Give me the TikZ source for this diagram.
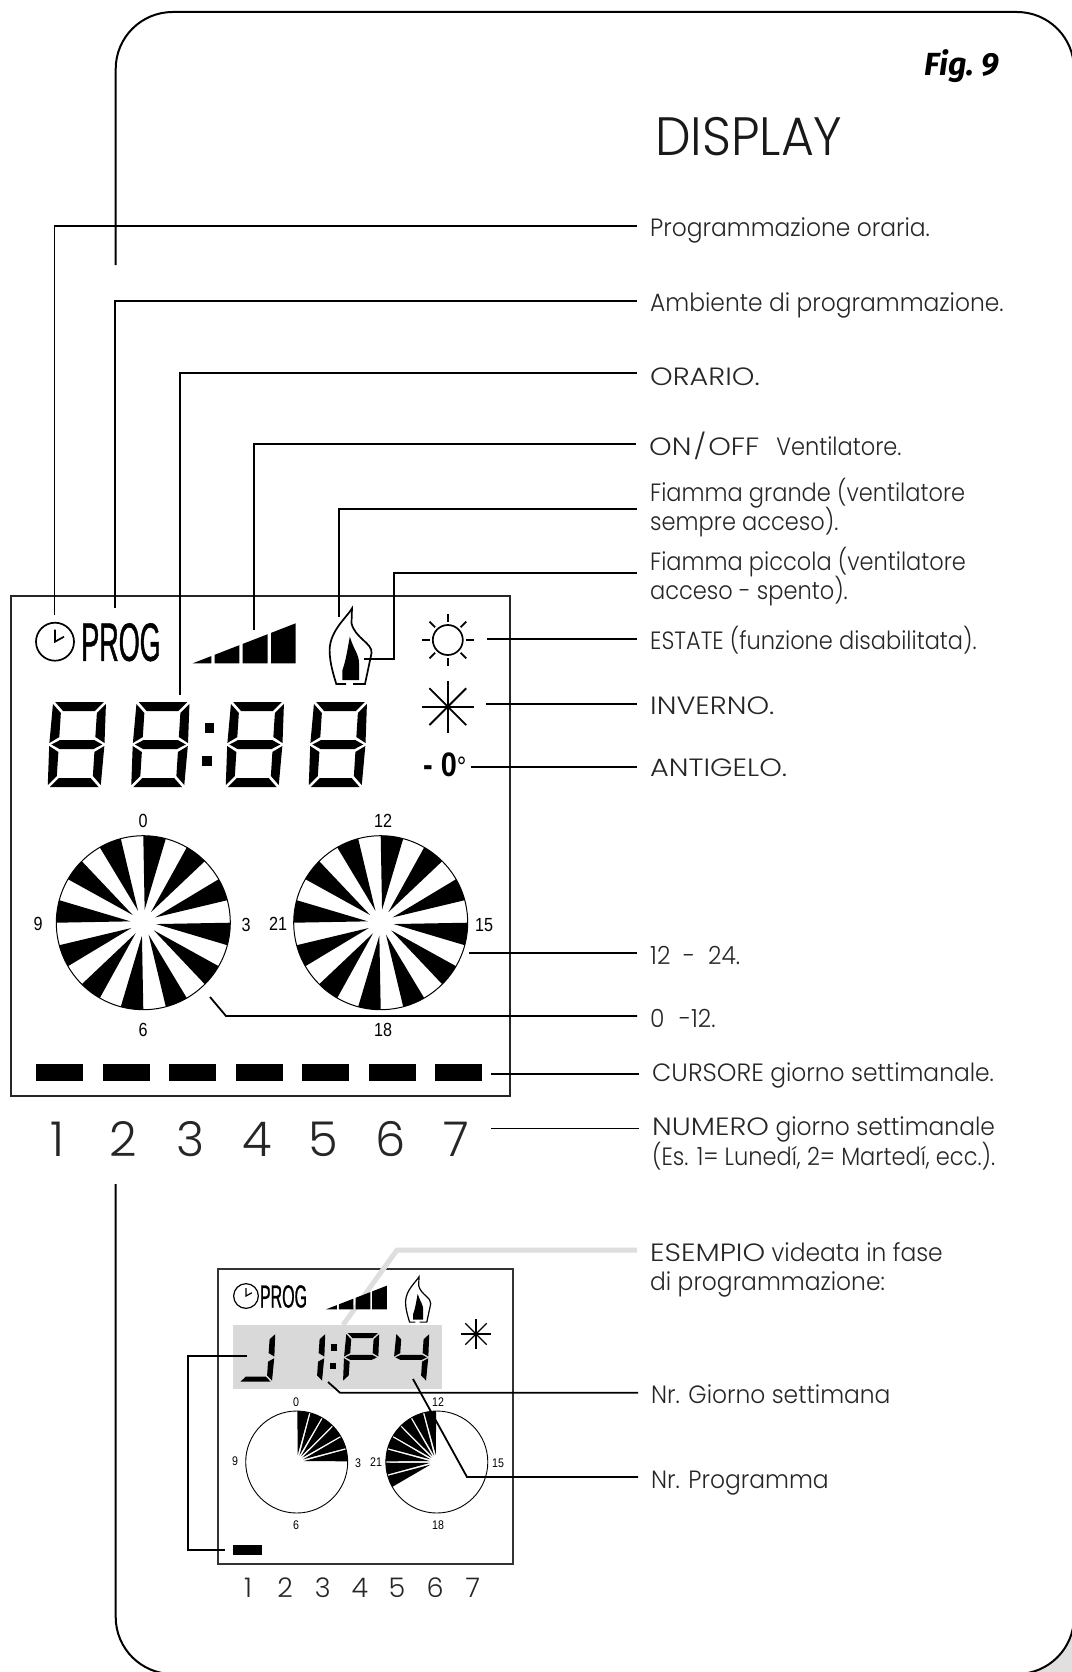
\documentclass[tikz,border=0pt]{standalone}
\usepackage{fontspec}
\setmainfont[FakeStretch=.935]{Poppins Light}
\newfontfamily\plainfont{Poppins Light}
\newfontfamily\narrowfont[FakeStretch=.9]{Poppins Light}
\newfontfamily\widefont[FakeStretch=1.15]{Poppins Light}
\newfontfamily\condfont[FakeStretch=.85]{Liberation Sans}
\newfontfamily\progfont[FakeStretch=.5,FakeBold=.8]{Liberation Sans}
\newfontfamily\figfont{Fira Sans}
\usetikzlibrary{arrows.meta,positioning,calc}
\setlength{\lineskiplimit}{-20pt}

\newcommand{\segT}{(3,0) -- (49,0) -- (41,9) -- (11,9) -- cycle}
\newcommand{\segUL}{(1,2) -- (9,11) -- (9,35) -- (0,41) -- cycle}
\newcommand{\segUR}{(51,2) -- (43,11) -- (43,35) -- (52,41) -- cycle}
\newcommand{\segM}{(2,42.5) -- (10,38) -- (42,38) -- (50,42.5) -- (42,47) -- (10,47) -- cycle}
\newcommand{\segLL}{(0,44) -- (9,50) -- (9,74) -- (1,83) -- cycle}
\newcommand{\segLR}{(52,44) -- (43,50) -- (43,74) -- (51,83) -- cycle}
\newcommand{\segB}{(3,85) -- (11,76) -- (41,76) -- (49,85) -- cycle}

\tikzset{
    pics/lcddigit/.style={code={\foreach \s in {#1}{\fill \csname seg\s\endcsname;}}},
    pics/clockicon/.style={code={
        \draw[line width=#1] (0,0) circle[radius=19];
        \draw[line width=#1] (0,-12) -- (0,0) -- (9,-5);
    }},
    pics/barsicon/.style={code={
        \fill (0,0) -- (18.6,0) -- (18.6,-7.2) -- cycle;
        \fill (21.9,0) -- (46.6,0) -- (46.6,-18.1) -- (21.9,-8.5) -- cycle;
        \fill (50,0) -- (75,0) -- (75,-29.1) -- (50,-19.4) -- cycle;
        \fill (78.3,0) -- (103,0) -- (103,-40) -- (78.3,-30.4) -- cycle;
    }},
    pics/flameicon/.style={code={
        \draw[line width=#1] (-6,75.7) -- (-15.7,75.7) .. controls (-18,68) and (-22.4,55) .. (-22.4,41.7)
            .. controls (-22,22) and (-5,9) .. (0,0) -- (-.5,15) .. controls (3,30) and (21,35) .. (19.5,45)
            -- (13,75.7) -- (1,75.7);
        \fill (-2.2,28.4) .. controls (2,42) and (7,46) .. (7,55) -- (7,71.7) -- (-9.6,71.7) -- (-9.6,62)
            .. controls (-6,52) and (-4,38) .. cycle;
    }},
    pics/snowicon/.style={code={
        \foreach \a in {0,45,...,315} {\draw[line width=#1] (0,0) -- (\a:26);}
    }},
}

\begin{document}
\begin{tikzpicture}[
                x=1pt, y=-1pt,
                frame/.style={line width=2pt, rounded corners=57pt},
                lcdbox/.style={draw=black!85, line width=1.4pt},
                lead/.style={line width=1.8pt, line join=miter},
                greylead/.style={line width=5pt, draw=black!13},
                lbltwo/.style={anchor=west, inner xsep=13pt, inner ysep=0pt, align=left, text=black!85, font=\fontsize{25}{29}\selectfont},
                lbl/.style={lbltwo, text height=#1, text depth=0pt},
                lbl/.default=21pt,
                dialnum/.style={inner sep=0pt, font=\condfont\fontsize{19}{19}\selectfont},
                smallnum/.style={inner sep=0pt, font=\condfont\fontsize{12.5}{12.5}\selectfont},
                daynum/.style={inner sep=0pt, text=black!85, font=\plainfont\fontsize{48}{48}\selectfont},
                smallday/.style={inner sep=0pt, text=black!85, font=\plainfont\fontsize{27}{27}\selectfont},
                dial/.style={draw=black, fill=white, line width=1pt},
                smalldial/.style={draw=black, fill=white, line width=.9pt},
            ]
            \useasboundingbox (0,0) rectangle (1071,1672);
            \fill[black!12] (1074,1617) .. controls (1074,1648) and (1048,1674) .. (1017,1674) -- (1074,1674) -- cycle;
            \draw[frame] (115.7,265) -- (115.7,12) -- (1074,12) -- (1074,1674) -- (115.7,1674) -- (115.7,1184);

            \node[inner sep=0pt, font=\figfont\bfseries\itshape\fontsize{32}{32}\selectfont] (figno) at (962,66) {Fig.\ 9};
            \node[inner sep=0pt, anchor=west, text=black!90, font=\fontsize{54}{54}\selectfont] (title) at (655,137) {DISPLAY};

            \node[lcdbox, rectangle, minimum width=499pt, minimum height=500pt, inner sep=0pt] (lcd) at (260.5,846) {};
            \node[draw=black!80, line width=1.1pt, rectangle, minimum width=295pt, minimum height=295pt, inner sep=0pt] (minilcd) at (365.5,1416.5) {};

            \coordinate (cClock) at (54.5,615);
            \coordinate (cProg) at (115,608);
            \coordinate (cOrario) at (180.3,695);
            \coordinate (cBars) at (254,630);
            \coordinate (cBigflame) at (339,617);
            \coordinate (cSmallflame) at (364,659);
            \coordinate (cSmallflameBend) at (394,573);
            \coordinate (cSun) at (487,639.3);
            \coordinate (cSnow) at (486,704);
            \coordinate (cFrost) at (470.5,767);
            \coordinate (cDialB) at (469,952.7);
            \coordinate (cDialA) at (210,997);
            \coordinate (cDialBend) at (226,1016);
            \coordinate (cCursor) at (491,1074);
            \coordinate (cNumero) at (491,1128.5);
            \coordinate (cGrey) at (343,1325);
            \coordinate (cGreyBend) at (397,1250);
            \coordinate (cGiorno) at (328,1382);
            \coordinate (cGiornoBend) at (340,1392.7);
            \coordinate (cProgr) at (413,1379);
            \coordinate (cProgrBend) at (467,1477);
            \coordinate (cMiniA) at (247,1356);
            \coordinate (cMiniB) at (225,1550);
            \coordinate (cMiniBendA) at (188,1356);

            \node[lbl] (lOraria) at (637,226) {Programmazione oraria.};
            \node[lbl] (lAmbiente) at (637,301) {Ambiente di programmazione.};
            \node[lbl=25pt] (lOrario) at (637,373) {{\widefont ORARIO.}};
            \node[lbl=22pt] (lVent) at (636,444) {{\widefont ON\kern2pt/\kern2pt OFF}\kern17pt{\narrowfont Ventilatore.}};
            \node[lbltwo, font=\narrowfont\fontsize{25}{29}\selectfont] (lGrande) at (637,508) {Fiamma grande (ventilatore\\sempre acceso).};
            \node[lbltwo, font=\narrowfont\fontsize{25}{29}\selectfont] (lPiccola) at (637,577) {Fiamma piccola (ventilatore\\acceso - spento).};
            \node[lbl=19.4pt, font=\narrowfont\fontsize{25}{29}\selectfont] (lEstate) at (637,639.3) {ESTATE (funzione disabilitata).};
            \node[lbl=20pt] (lInverno) at (637,704) {{\widefont INVERNO.}};
            \node[lbl=18pt] (lAntigelo) at (637,767) {{\widefont ANTIGELO.}};
            \node[lbl=24pt] (lDodici) at (637,952.7) {12~~-~~24.};
            \node[lbl=23.4pt] (lZero) at (637,1016) {0\kern8pt\ -12.};
            \node[lbl=15.4pt] (lCursore) at (639,1074) {{\plainfont CURSORE} giorno settimanale.};
            \node[lbl=13pt] (lNumero) at (639,1128.5) {{\widefont NUMERO} giorno settimanale};
            \node[lbl=0pt, font=\narrowfont\fontsize{25}{29}\selectfont] (lEs) at (639,1165) {(Es. 1= Lunedí, 2= Martedí, ecc.).};
            \node[lbltwo] (lEsempio) at (637,1269.5) {{\widefont ESEMPIO} videata in fase\\di programmazione:};
            \node[lbl=20.6pt] (lGiorno) at (638,1392.7) {Nr. Giorno settimana};
            \node[lbl=22pt] (lProgr) at (638,1477) {Nr. Programma};

            \draw[greylead] ($(lEsempio.west)+(0,-19.5)$) -- (cGreyBend) -- (cGrey);
            \fill[black!15] (233,1325) rectangle (442,1389);

            \draw[lead] (cClock) |- (lOraria.west);
            \draw[lead] (cProg) |- (lAmbiente.west);
            \draw[lead] (cOrario) |- (lOrario.west);
            \draw[lead] (cBars) |- (lVent.west);
            \draw[lead] (cBigflame) |- ($(lGrande.west)+(0,1)$);
            \draw[lead] (cSmallflame) -| (cSmallflameBend) -- ($(lPiccola.west)+(0,-4)$);
            \draw[lead] (cSun) -- (lEstate.west);
            \draw[lead] (cSnow) -- (lInverno.west);
            \draw[lead] (cFrost) -- (lAntigelo.west);
            \draw[lead] (cDialB) -- (lDodici.west);
            \draw[lead] (cDialA) -- (cDialBend) -- (lZero.west);
            \draw[lead] (cCursor) -- (lCursore.west);
            \draw[lead] (cNumero) -- (lNumero.west);
            \draw[lead] (cGiorno) -- (cGiornoBend) -- (lGiorno.west);
            \draw[lead] (cMiniA) -- (cMiniBendA) |- (cMiniB);

            \pic at (55,641.7) {clockicon=1.7pt};
            \node[inner sep=0pt, font=\progfont\fontsize{54}{54}\selectfont] (prog) at (121,642.2) {PROG};
            \pic at (192.7,663.3) {barsicon};
            \pic at (352,608.3) {flameicon=1.7pt};

            \node[draw, circle, line width=1.7pt, minimum size=30pt, inner sep=0pt] (sun) at (447.8,640) {};
            \foreach \a in {0,45,...,315} {\draw[line width=1.7pt] (sun.center) ++(\a:18) -- ++(\a:8);}
            \pic at (447.8,706.7) {snowicon=1.8pt};
            \node[inner sep=0pt, anchor=west, font=\condfont\fontsize{34}{34}\selectfont] (frost) at (423,764.7) {\textbf{- 0}\fontsize{28}{28}\selectfont °};

            \foreach \xo in {52,135.5,230,313} {\pic[xscale=1.06,xslant=.06] at (\xo,702) {lcddigit={T,UL,UR,M,LL,LR,B}};}
            \fill (204.8,722.7) rectangle (213.6,732.7);
            \fill (202,756) rectangle (211.6,766);

            \foreach \cx in {143.3,380.7} {
                \begin{scope}[shift={(\cx,922.7)}]
                    \path[dial] (0,0) circle[radius=87];
                    \foreach \a in {0,30,...,330} {
                        \fill (\a+6-90:13) -- (\a-90:87) -- (\a-85:87) -- (\a-80:87) -- (\a-75:87) -- cycle;
                    }
                \end{scope}
            }
            \foreach \t/\x/\y/\n in {0/143/821/a,9/38/924/b,3/246/925/c,6/143/1030/d,12/383/821/e,21/278/924/f,15/484/925/g,18/383/1030/h} {
                \node[dialnum] (num\n) at (\x,\y) {\t};
            }
            \foreach \k in {0,...,6} {\fill (36+66.5*\k,1064.3) rectangle (83.3+66.5*\k,1080.7);}
            \foreach \t/\x in {1/57.6,2/123.7,3/191,4/257,5/323,6/390.4,7/456.5} {
                \node[daynum] (day\t) at (\x,1139) {\t};
            }

            \pic[scale=.65] at (246,1296) {clockicon=1.2pt};
            \node[inner sep=0pt, font=\progfont\fontsize{32}{32}\selectfont] (miniprog) at (283.5,1296.5) {PROG};
            \pic[scale=.59] at (326,1309.3) {barsicon};
            \pic[scale=.6] at (419,1276.7) {flameicon=1.2pt};
            \pic[scale=.58] at (476,1334) {snowicon=1.2pt};

            \pic[scale=.573,xscale=1.15,xslant=.06] at (241.7,1333) {lcddigit={UR,LR,B}};
            \pic[scale=.573,xscale=1.15,xslant=.06] at (291.7,1333) {lcddigit={UR,LR}};
            \pic[scale=.573,xscale=1.15,xslant=.06] at (345.7,1333) {lcddigit={T,UL,UR,M,LL}};
            \pic[scale=.573,xscale=1.15,xslant=.06] at (395.7,1333) {lcddigit={UL,UR,M,LR}};
            \fill (330.8,1344) rectangle (337.4,1350.7);
            \fill (330,1363.3) rectangle (336.4,1369.3);

            \begin{scope}[shift={(296.7,1462)}]
                \path[smalldial] (0,0) circle[radius=51];
                \foreach \a in {0,15,...,75} {
                    \fill (\a+7.5-90:7) -- (\a+.8-90:51) -- (\a+7.5-90:51) -- (\a+14.2-90:51) -- cycle;
                }
            \end{scope}
            \begin{scope}[shift={(436.8,1462)}]
                \path[smalldial] (0,0) circle[radius=51];
                \foreach \a in {240,255,...,345} {
                    \fill (\a+7.5-90:7) -- (\a+.8-90:51) -- (\a+7.5-90:51) -- (\a+14.2-90:51) -- cycle;
                }
            \end{scope}
            \foreach \t/\x/\y/\n in {0/296/1402/a,9/235/1461/b,3/358/1463/c,6/296/1525/d,12/438/1402/e,21/376/1462/f,15/498/1463/g,18/438/1525/h} {
                \node[smallnum] (mininum\n) at (\x,\y) {\t};
            }
            \draw[lead] (cProgr) -- (cProgrBend) -- (lProgr.west);
            \fill (233,1545) rectangle (261.7,1555);
            \foreach \t/\x in {1/248,2/285,3/322.7,4/360,5/397,6/435,7/472.7} {
                \node[smallday] (miniday\t) at (\x,1588) {\t};
            }
        \end{tikzpicture}
\end{document}
